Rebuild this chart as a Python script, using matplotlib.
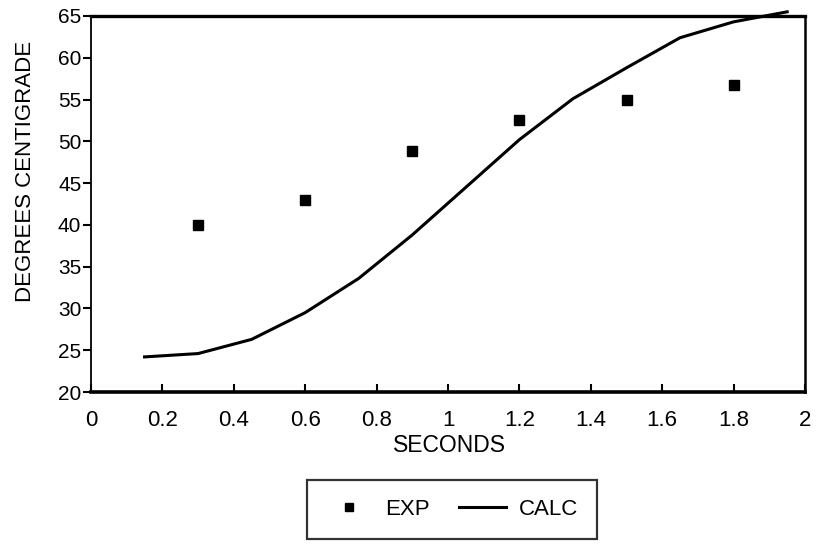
import matplotlib
matplotlib.use("Agg")
import matplotlib.pyplot as plt

# measured points (EXP) and calculated curve (CALC)
exp_t = [0.3, 0.6, 0.9, 1.2, 1.5, 1.8]
exp_temp = [40.0, 43.0, 48.8, 52.6, 55.0, 56.8]

calc_t = [0.15, 0.3, 0.45, 0.6, 0.75, 0.9, 1.05, 1.2, 1.35, 1.5, 1.65, 1.8, 1.95]
calc_temp = [24.2, 24.6, 26.3, 29.5, 33.6, 38.8, 44.5, 50.2, 55.1, 58.8, 62.4, 64.3, 65.5]

x_ticks = [0, 0.2, 0.4, 0.6, 0.8, 1, 1.2, 1.4, 1.6, 1.8, 2]
x_labels = ['0', '0.2', '0.4', '0.6', '0.8', '1', '1.2', '1.4', '1.6', '1.8', '2']
y_ticks = [20, 25, 30, 35, 40, 45, 50, 55, 60, 65]

plt.rcParams['font.family'] = ['Liberation Sans', 'DejaVu Sans']

fig = plt.figure(figsize=(8.17, 5.46), dpi=100)
ax = fig.add_axes([91 / 817, 1 - 392 / 546, (805 - 91) / 817, (392 - 16) / 546])

ax.plot(exp_t, exp_temp, 's', color='black', markersize=7.5, label='EXP', linestyle='none')
ax.plot(calc_t, calc_temp, '-', color='black', linewidth=2.2, label='CALC', clip_on=False)

ax.set_xlim(0, 2)
ax.set_ylim(20, 65)
ax.set_xticks(x_ticks)
ax.set_xticklabels(x_labels)
ax.set_yticks(y_ticks)

ax.tick_params(axis='x', direction='in', length=6, width=1.5, labelsize=16, pad=13)
ax.tick_params(axis='y', direction='out', length=6, width=1.5, labelsize=15, pad=1)

for side, lw in [('top', 2.4), ('bottom', 2.6), ('left', 1.3), ('right', 1.8)]:
    ax.spines[side].set_linewidth(lw)

ax.set_xlabel('SECONDS', fontsize=16.5)
ax.xaxis.set_label_coords((449 - 91) / 714, (392 - 434) / 376)
ax.set_ylabel('DEGREES CENTIGRADE', fontsize=16)
ax.yaxis.set_label_coords((36 - 91) / 714, (392 - 171) / 376)

leg = fig.legend(loc='upper center', bbox_to_anchor=(452 / 817, 1 - 480 / 546),
                 ncol=2, fontsize=16, frameon=True, fancybox=False,
                 handlelength=2.1, columnspacing=1.3, handletextpad=0.6,
                 borderpad=0.85, borderaxespad=0, markerscale=0.8)
leg.get_frame().set_edgecolor('black')
leg.get_frame().set_linewidth(1.6)

fig.savefig('out.png', dpi=100)
